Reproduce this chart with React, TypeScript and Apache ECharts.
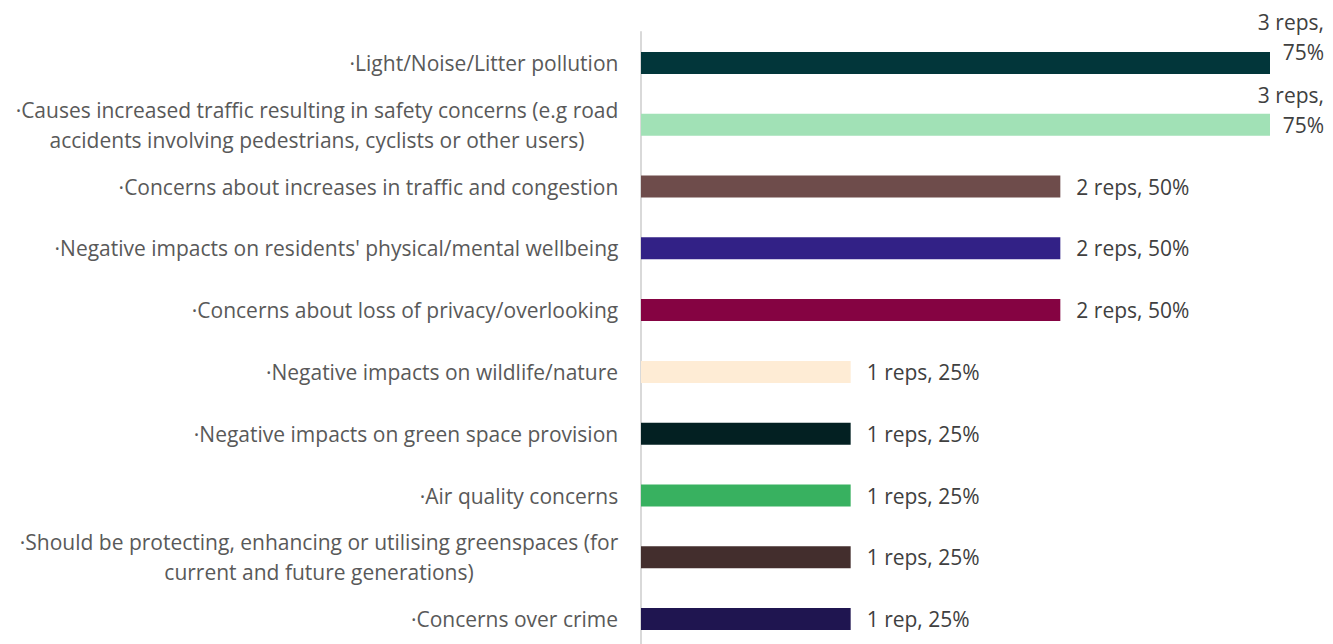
import React, { useEffect, useRef } from "react";
import * as echarts from "echarts";

const categories: string[] = [
  "·Light/Noise/Litter pollution",
  "·Causes increased traffic resulting in safety concerns (e.g road\naccidents involving pedestrians, cyclists or other users)",
  "·Concerns about increases in traffic and congestion",
  "·Negative impacts on residents' physical/mental wellbeing",
  "·Concerns about loss of privacy/overlooking",
  "·Negative impacts on wildlife/nature",
  "·Negative impacts on green space provision",
  "·Air quality concerns",
  "·Should be protecting, enhancing or utilising greenspaces (for\ncurrent and future generations)",
  "·Concerns over crime",
];

const values: number[] = [3, 3, 2, 2, 2, 1, 1, 1, 1, 1];

const valueLabels: string[] = [
  "3 reps,\n75%",
  "3 reps,\n75%",
  "2 reps, 50%",
  "2 reps, 50%",
  "2 reps, 50%",
  "1 reps, 25%",
  "1 reps, 25%",
  "1 reps, 25%",
  "1 reps, 25%",
  "1 rep, 25%",
];

const barColors: string[] = [
  "#02363a",
  "#a1e1b6",
  "#6e4c4b",
  "#322186",
  "#850342",
  "#feecd5",
  "#032022",
  "#38b160",
  "#432e2d",
  "#1f1550",
];

const FONT_FAMILY = "Open Sans";
const FONT_SIZE = 21;

export default function App() {
  const ref = useRef<HTMLDivElement>(null);

  useEffect(() => {
    if (!ref.current) return;
    const chart = echarts.init(ref.current, undefined, { renderer: "svg" });

    const canvas = document.createElement("canvas");
    const ctx = canvas.getContext("2d")!;
    ctx.font = `${FONT_SIZE}px "${FONT_FAMILY}"`;

    const rich: Record<string, any> = {};
    categories.forEach((c, i) => {
      const w = Math.max(...c.split("\n").map((l) => ctx.measureText(l).width));
      rich["c" + i] = {
        width: Math.ceil(w) + 1,
        align: "center",
        fontFamily: FONT_FAMILY,
        fontSize: FONT_SIZE,
        color: "#595959",
        lineHeight: 30,
      };
    });

    const data = values.map((v, i) => {
      const item: any = {
        value: v,
        itemStyle: { color: barColors[i] },
        label: { formatter: valueLabels[i] },
      };
      if (valueLabels[i].includes("\n")) {
        item.label = {
          formatter: valueLabels[i],
          align: "right",
          offset: [38, i === 0 ? -26 : -15],
        };
      }
      return item;
    });

    chart.setOption({
      animation: false,
      grid: { left: 641, right: 63, top: 32, bottom: 10, containLabel: false },
      xAxis: {
        type: "value",
        min: 0,
        max: 3,
        show: false,
        splitLine: { show: false },
      },
      yAxis: {
        type: "category",
        data: categories,
        inverse: true,
        axisLine: { show: true, lineStyle: { color: "#d9d9d9", width: 2 } },
        axisTick: { show: false },
        axisLabel: {
          margin: 22,
          align: "right",
          formatter: (value: string, index: number) =>
            value
              .split("\n")
              .map((l) => `{c${index}|${l}}`)
              .join("\n"),
          rich,
        },
      },
      series: [
        {
          type: "bar",
          data,
          barWidth: 22,
          label: {
            show: true,
            position: "right",
            distance: 16,
            fontFamily: FONT_FAMILY,
            fontSize: FONT_SIZE,
            color: "#404040",
            lineHeight: 30,
          },
        },
      ],
    });

    return () => chart.dispose();
  }, []);

  return (
    <div
      ref={ref}
      style={{ position: "fixed", left: 0, top: 0, width: 1333, height: 660, background: "#fff" }}
    />
  );
}
